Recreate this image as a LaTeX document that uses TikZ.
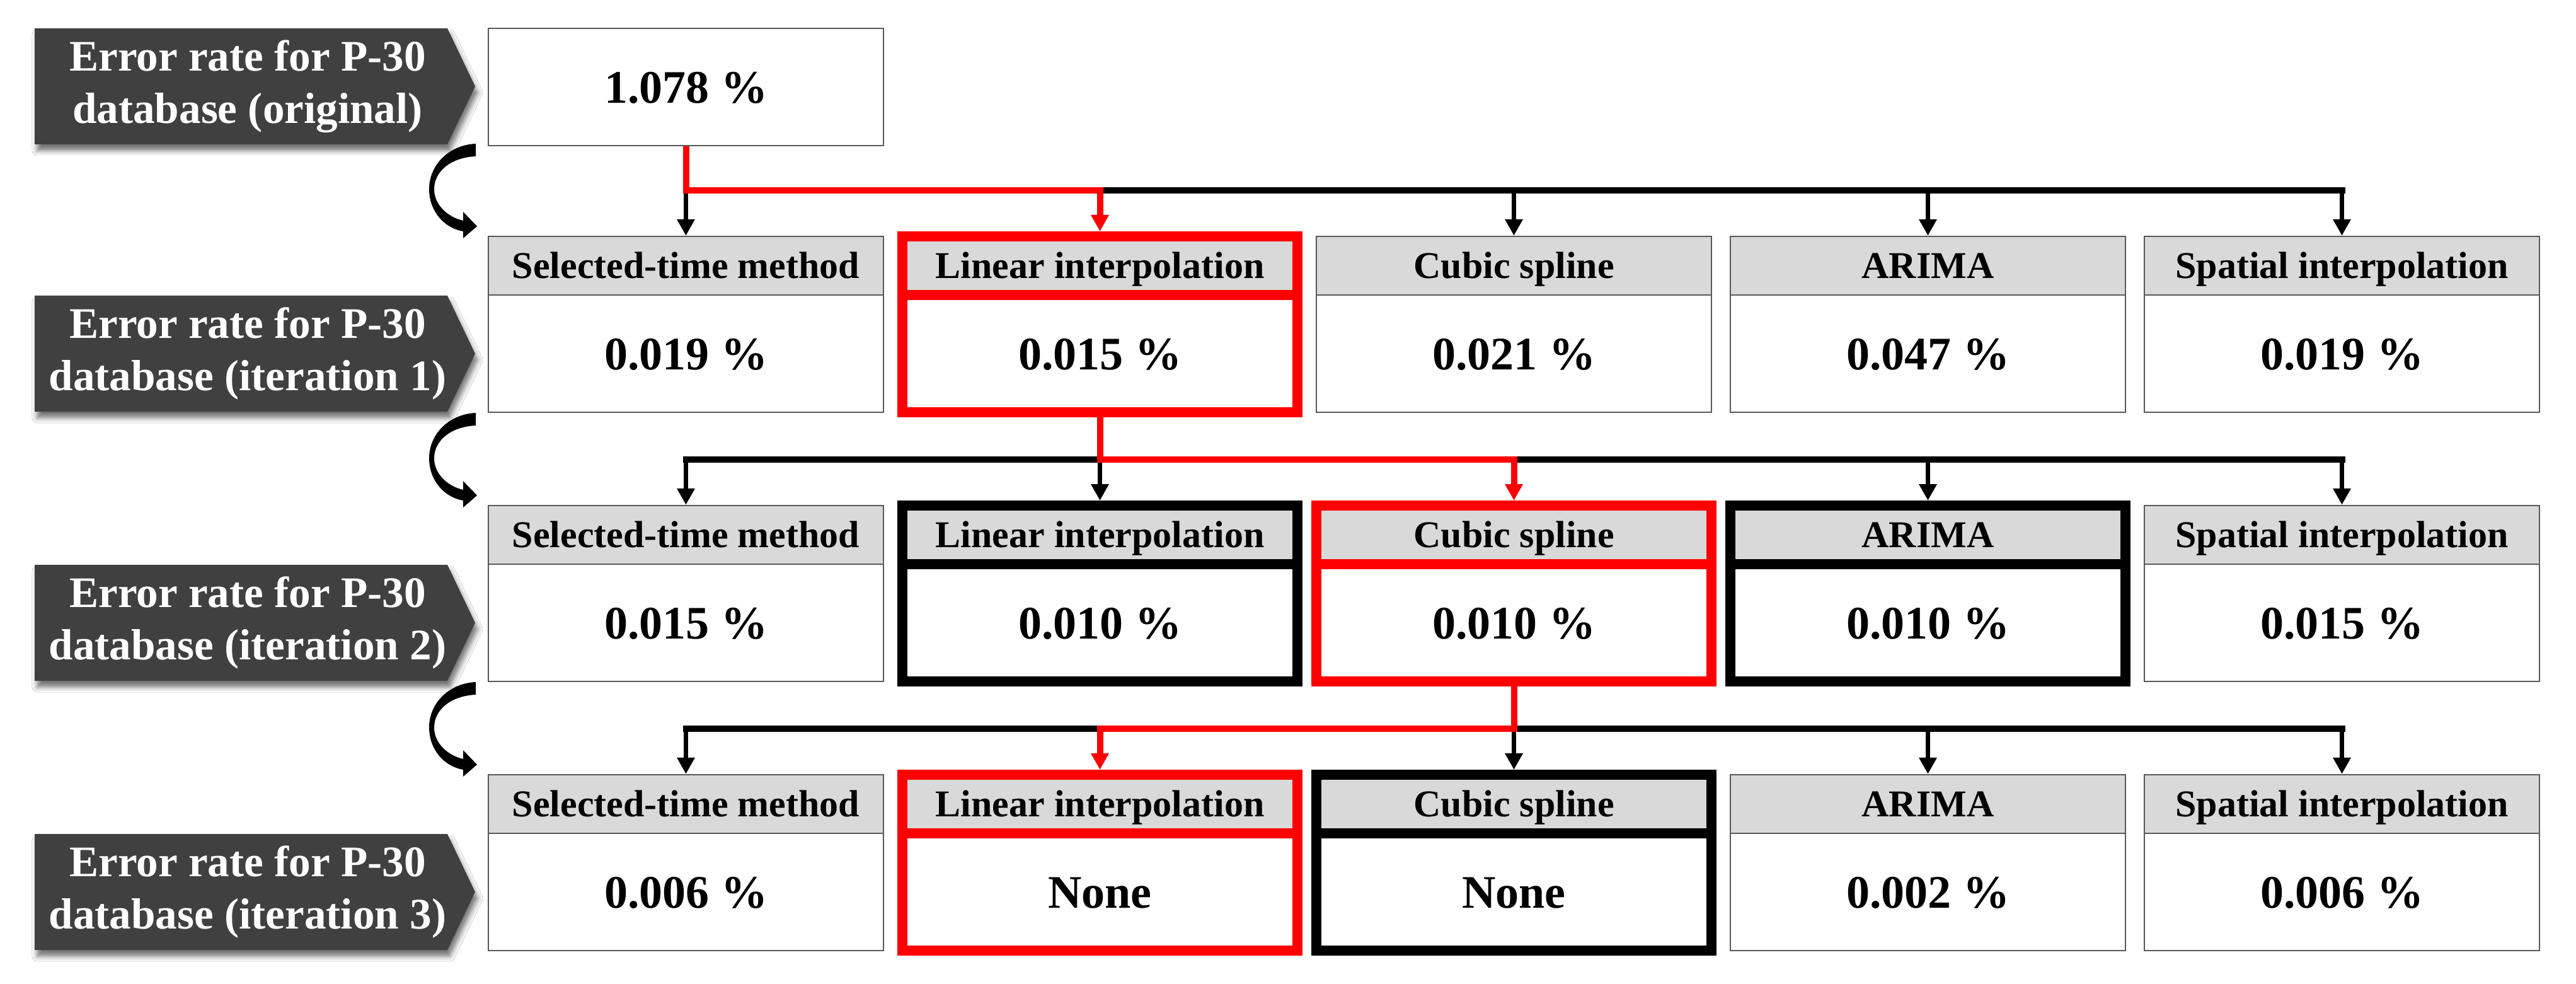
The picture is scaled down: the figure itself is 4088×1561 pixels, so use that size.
\documentclass[tikz,border=0pt]{standalone}
\usepackage{fontspec}
\setmainfont{Liberation Serif}
\usetikzlibrary{arrows.meta,shadows.blur}
\definecolor{hdrgray}{HTML}{D9D9D9}
\definecolor{lblgray}{HTML}{404040}
\definecolor{thingray}{HTML}{595959}
\definecolor{hlred}{HTML}{FF0000}
\newcommand\hname[1]{\ifcase#1\or Selected-time method\or Linear interpolation\or Cubic spline\or ARIMA\or Spatial interpolation\fi}
\tikzset{
  hdr/.style={rectangle, fill=hdrgray, minimum width=156.75pt, minimum height=23.25pt, inner sep=0pt, text height=10.2pt, text depth=0pt, font=\fontsize{15pt}{18pt}\selectfont\bfseries},
  val/.style={rectangle, fill=white, minimum width=156.75pt, minimum height=46.5pt, inner sep=0pt, text height=12.6pt, text depth=0pt, font=\fontsize{18.5pt}{22pt}\selectfont\bfseries},
  thinbox/.style={draw=thingray, line width=0.6pt},
  blackbox/.style={draw=black, line width=4pt},
  redbox/.style={draw=hlred, line width=4pt},
  lbl/.style={fill=lblgray, blur shadow={shadow xshift=1pt, shadow yshift=-2.5pt, shadow blur radius=2pt, shadow opacity=55}},
  lbltext/.style={text=white, align=center, font=\fontsize{17.3pt}{20.75pt}\selectfont\bfseries, inner sep=0pt},
  blackbus/.style={draw=black, line width=2.5pt, line cap=rect},
  redpath/.style={draw=hlred, line width=2.5pt, line join=miter, -{Triangle[length=6.5pt,width=6.75pt]}},
  downarrow/.style={draw=black, line width=1.75pt, -{Triangle[length=6.5pt,width=6.75pt]}},
}
\begin{document}
\begin{tikzpicture}[x=0.25pt, y=-0.25pt]
\useasboundingbox (0,0) rectangle (4088,1561);
\fill[white] (0,0) rectangle (4088,1561);

% left labels
\foreach \i/\m/\t in {0/137/original, 1/561/iteration 1, 2/988/iteration 2, 3/1415/iteration 3} {
  \fill[lbl] (55,{\m-92}) -- (710,{\m-92}) -- (754,\m) -- (710,{\m+92}) -- (55,{\m+92}) -- cycle;
  \node[lbltext] (L\i) at (393,\m) {Error rate for P-30\\database (\t)};
}

% curved arrows
\foreach \o in {0,427,854} {
  \begin{scope}[shift={(0,\o)}]
    \fill[black] (755,228) .. controls (712,230) and (681,262) .. (681,300)
      .. controls (681,335) and (705,362) .. (735,367)
      -- (735,378) -- (757,359) -- (735,336) -- (735,350)
      .. controls (712,345) and (689,326) .. (689,300)
      .. controls (689,272) and (715,250) .. (755,248) -- cycle;
  \end{scope}
}

% original box
\node[val, thinbox] (v0) at (1088.5,138) {1.078 \%};

% row 1
\foreach \c/\st/\v in {1/thinbox/{0.019 \%}, 3/thinbox/{0.021 \%}, 4/thinbox/{0.047 \%}, 5/thinbox/{0.019 \%}, 2/redbox/{0.015 \%}} {
  \node[hdr, \st] (h1-\c) at ({1088.5+657*(\c-1)},421.5) {\hname{\c}};
  \node[val, \st] (v1-\c) at ({1088.5+657*(\c-1)},561) {\v};
}
% row 2
\foreach \c/\st/\v in {1/thinbox/{0.015 \%}, 5/thinbox/{0.015 \%}, 2/blackbox/{0.010 \%}, 4/blackbox/{0.010 \%}, 3/redbox/{0.010 \%}} {
  \node[hdr, \st] (h2-\c) at ({1088.5+657*(\c-1)},848.5) {\hname{\c}};
  \node[val, \st] (v2-\c) at ({1088.5+657*(\c-1)},988) {\v};
}
% row 3
\foreach \c/\st/\v in {1/thinbox/{0.006 \%}, 4/thinbox/{0.002 \%}, 5/thinbox/{0.006 \%}, 3/blackbox/{None}, 2/redbox/{None}} {
  \node[hdr, \st] (h3-\c) at ({1088.5+657*(\c-1)},1275.5) {\hname{\c}};
  \node[val, \st] (v3-\c) at ({1088.5+657*(\c-1)},1415) {\v};
}

% bus junctions
\foreach \r/\y in {1/302, 2/729, 3/1156} {
  \foreach \c in {1,...,5} {
    \coordinate (j\r-\c) at ({1088.5+657*(\c-1)},\y);
  }
  \draw[blackbus] (j\r-1) -- (j\r-5);
}

% black arrows
\foreach \c in {1,3,4,5} { \draw[downarrow] (j1-\c) -- (h1-\c.north); }
\foreach \c in {1,2,4,5} { \draw[downarrow] (j2-\c) -- (h2-\c.north); }
\foreach \c in {1,3,4,5} { \draw[downarrow] (j3-\c) -- (h3-\c.north); }

% red paths
\draw[redpath] (v0.south) -- (j1-1) -- (j1-2) -- (h1-2.north);
\draw[redpath] (v1-2.south) -- (j2-2) -- (j2-3) -- (h2-3.north);
\draw[redpath] (v2-3.south) -- (j3-3) -- (j3-2) -- (h3-2.north);
\end{tikzpicture}
\end{document}
